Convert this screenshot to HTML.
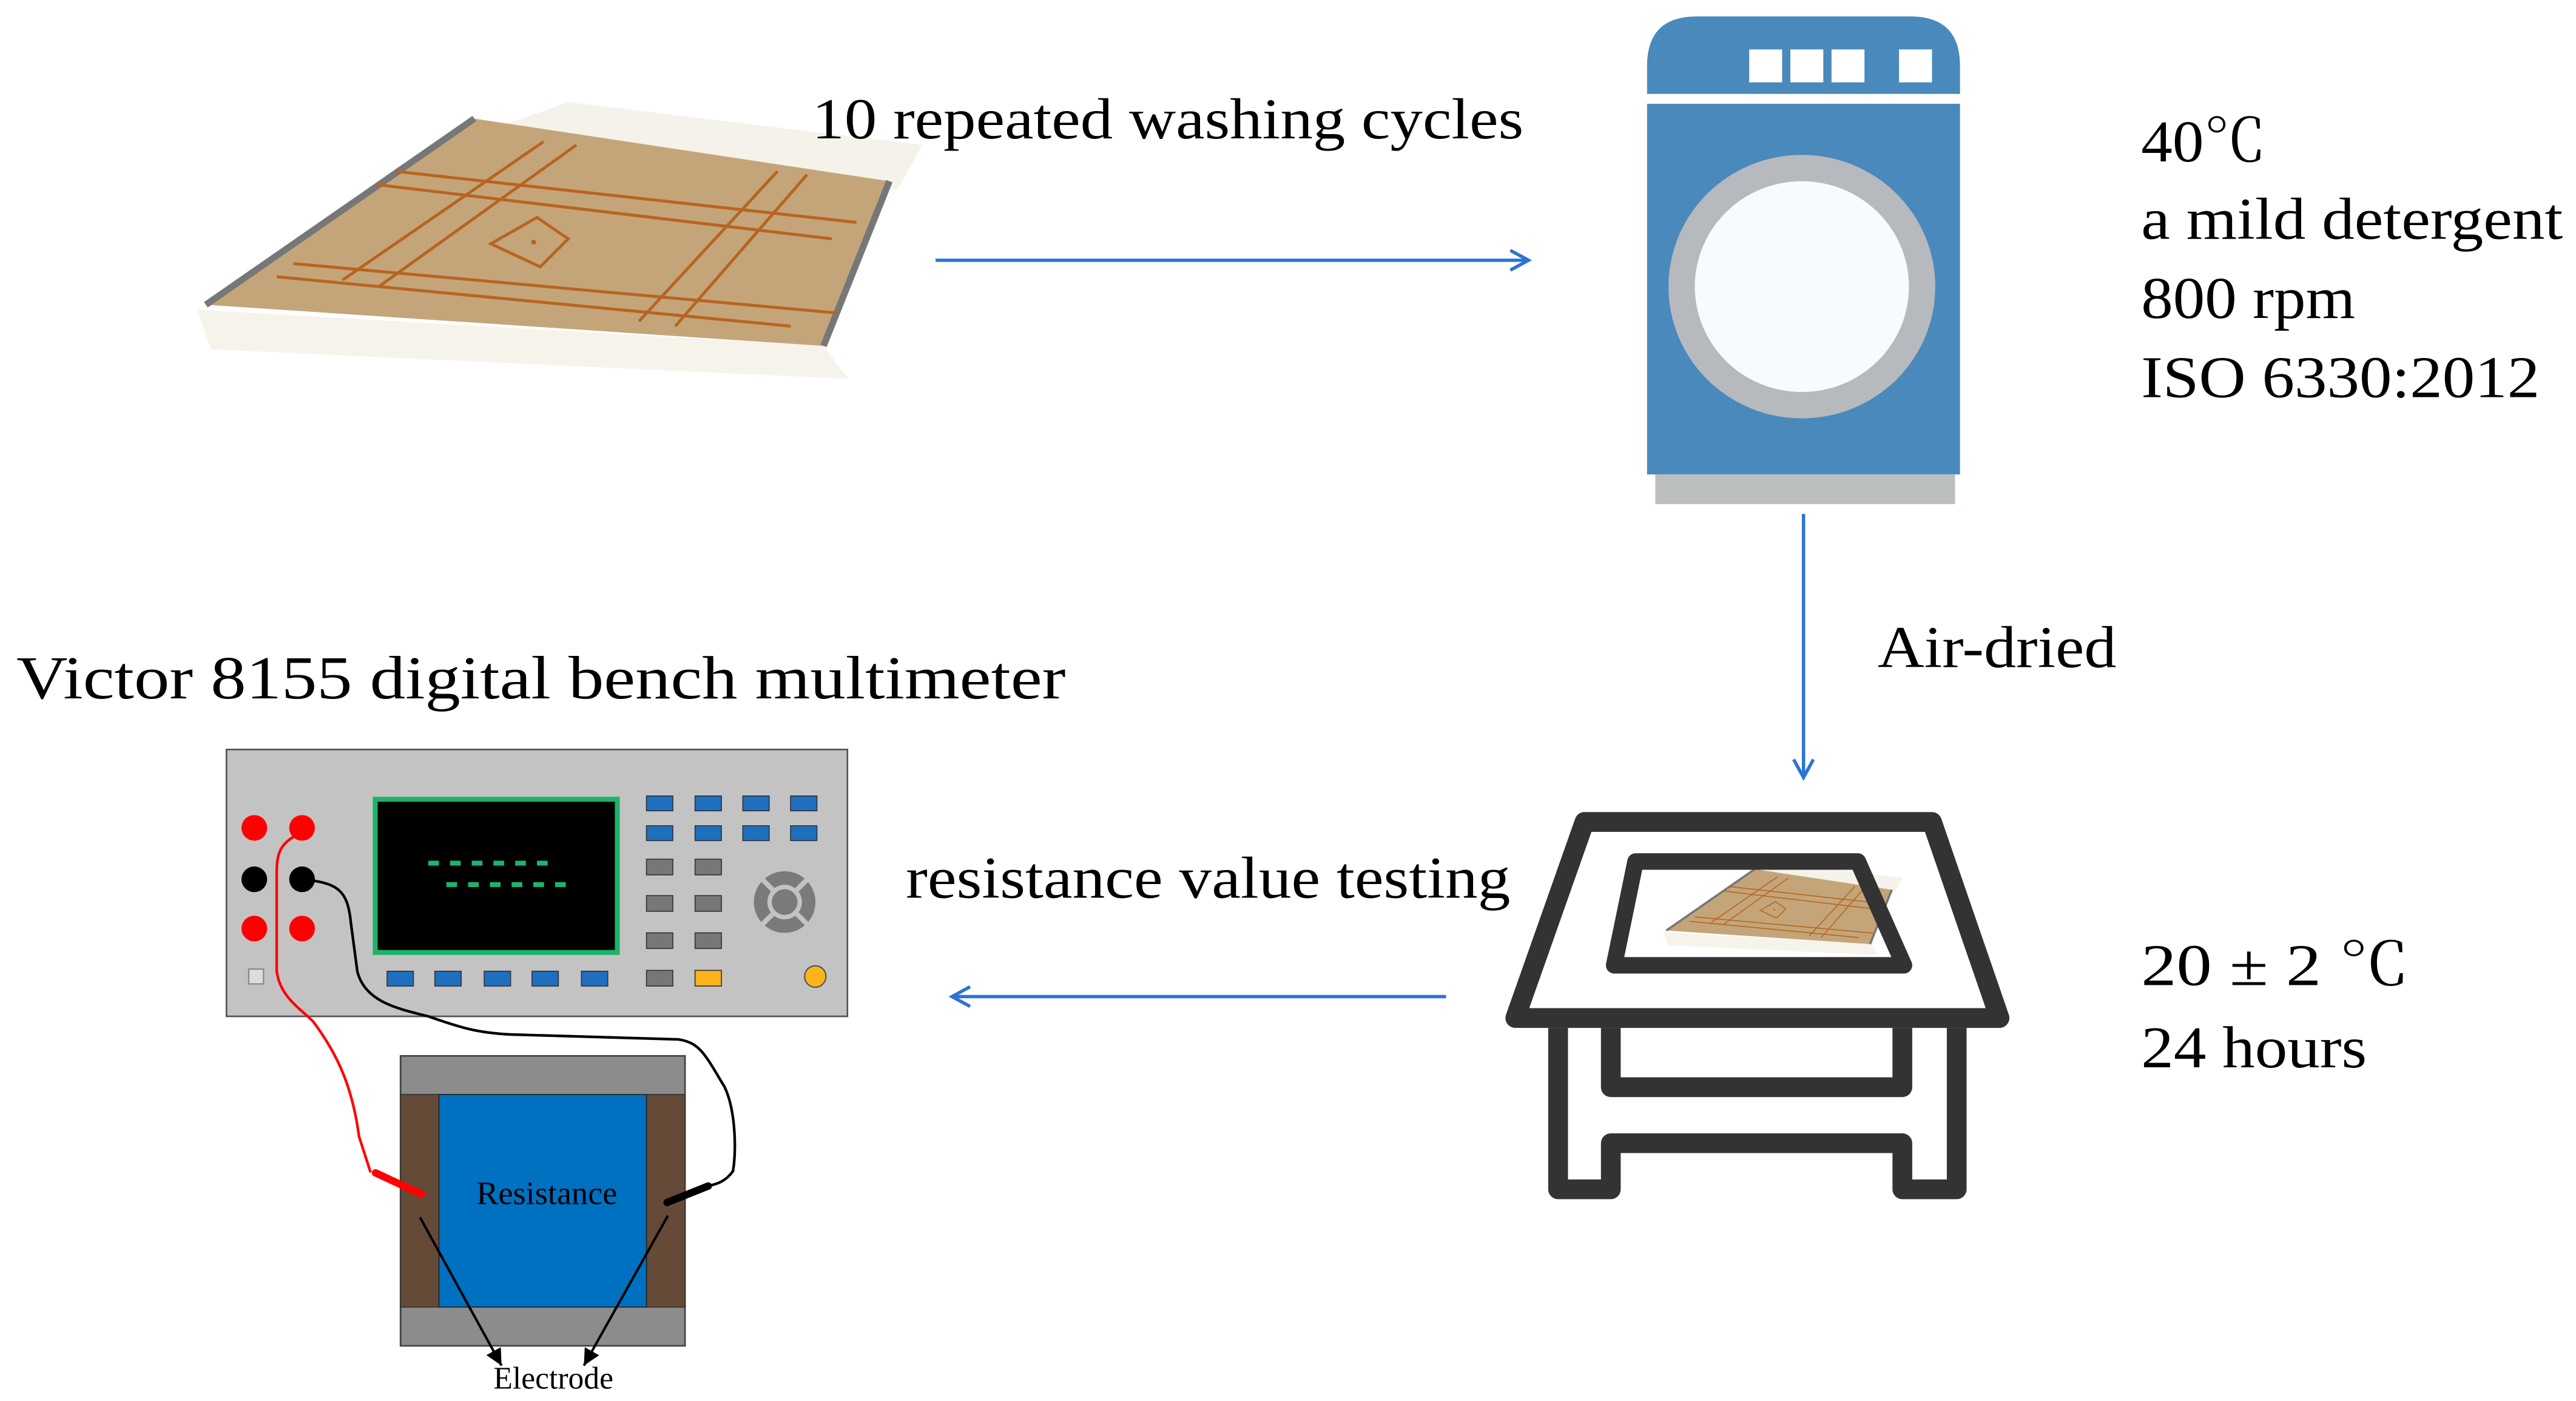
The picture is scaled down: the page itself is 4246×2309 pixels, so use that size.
<!DOCTYPE html>
<html><head><meta charset="utf-8"><style>
html,body{margin:0;padding:0;background:#fff;}
svg{display:block;}
text{font-family:"Liberation Serif","Noto Serif CJK SC",serif;fill:#000;}
</style></head><body>
<svg width="4246" height="2309" viewBox="0 0 1564 850.5" preserveAspectRatio="none" xmlns="http://www.w3.org/2000/svg">
<defs>
<marker id="ah" markerWidth="14" markerHeight="14" refX="12" refY="7" orient="auto" markerUnits="userSpaceOnUse">
<path d="M1,1 L12,7 L1,13" fill="none" stroke="#2b74d4" stroke-width="2"/>
</marker>
<marker id="bh" markerWidth="12" markerHeight="12" refX="10" refY="6" orient="auto" markerUnits="userSpaceOnUse">
<path d="M0,1 L10,6 L0,11 Z" fill="#000"/>
</marker>
<g id="fab">
<polygon points="345,62 560,88 545,115 300,78" fill="#f4f2ea"/>
<polygon points="288,72 540,110 500,210 125,185" fill="#c4a57a"/>
<polygon points="120,188 500,210 515,230 128,212" fill="#f6f3ea"/>
<path d="M288,72 L125,185" stroke="#777" stroke-width="4" fill="none"/>
<path d="M540,110 L500,210" stroke="#777" stroke-width="4" fill="none"/>
<g stroke="#b8641f" stroke-width="1.8" fill="none">
<path d="M240,104 L520,135"/><path d="M228,112 L505,145"/>
<path d="M178,160 L508,190"/><path d="M168,168 L480,198"/>
<path d="M330,86 L208,170"/><path d="M350,88 L230,174"/>
<path d="M472,104 L388,195"/><path d="M490,106 L410,198"/>
<path d="M326,132 L345,145 L328,162 L298,148 Z"/>
</g>
<circle cx="324" cy="147" r="1.5" fill="#b8641f"/>
</g>
</defs>

<use href="#fab"/>

<text x="493" y="84" font-size="35" textLength="432" lengthAdjust="spacingAndGlyphs">10 repeated washing cycles</text>
<line x1="568" y1="158" x2="928" y2="158" stroke="#2b74d4" stroke-width="2" marker-end="url(#ah)"/>

<path d="M1000,57 L1000,40 Q1000,10 1030,10 L1160,10 Q1190,10 1190,40 L1190,57 Z" fill="#4a89bb"/>
<rect x="1062" y="30" width="20" height="20" fill="#fff"/>
<rect x="1087" y="30" width="20" height="20" fill="#fff"/>
<rect x="1112" y="30" width="20" height="20" fill="#fff"/>
<rect x="1153" y="30" width="20" height="20" fill="#fff"/>
<rect x="1000" y="63" width="190" height="225" fill="#4a89bb"/>
<rect x="1005" y="288" width="182" height="18" fill="#bbbfc0"/>
<ellipse cx="1094" cy="174" rx="81" ry="80" fill="#b6b9be"/>
<ellipse cx="1094" cy="174" rx="65" ry="64" fill="#f7fbfd"/>

<text x="1300" y="98" font-size="36" textLength="76" lengthAdjust="spacingAndGlyphs">40℃</text>
<text x="1300" y="145" font-size="36" textLength="256" lengthAdjust="spacingAndGlyphs">a mild detergent</text>
<text x="1300" y="193" font-size="36" textLength="130" lengthAdjust="spacingAndGlyphs">800 rpm</text>
<text x="1300" y="241" font-size="36" textLength="242" lengthAdjust="spacingAndGlyphs">ISO 6330:2012</text>

<line x1="1095" y1="312" x2="1095" y2="472" stroke="#2b74d4" stroke-width="2" marker-end="url(#ah)"/>
<text x="1140" y="405" font-size="36" textLength="145" lengthAdjust="spacingAndGlyphs">Air-dried</text>

<g fill="none" stroke="#333" stroke-width="12" stroke-linejoin="round">
<polygon points="962,499 1173,499 1214,618 920,618"/>
<path d="M946,624 L946,722 L978,722 L978,694 L1155,694 L1155,722 L1188,722 L1188,624"/>
<path d="M978,624 L978,660 L1155,660 L1155,624"/>
</g>
<g transform="translate(1010,522) scale(0.33)"><use href="#fab" transform="translate(-120,-55)"/></g>
<polygon points="993,523 1128,523 1156,586 980,586" fill="none" stroke="#333" stroke-width="10" stroke-linejoin="round"/>

<text x="1300" y="598" font-size="36" textLength="163" lengthAdjust="spacingAndGlyphs">20 ± 2 ℃</text>
<text x="1300" y="648" font-size="36" textLength="137" lengthAdjust="spacingAndGlyphs">24 hours</text>

<line x1="878" y1="605" x2="578" y2="605" stroke="#2b74d4" stroke-width="2" marker-end="url(#ah)"/>
<text x="550" y="545" font-size="36" textLength="367" lengthAdjust="spacingAndGlyphs">resistance value testing</text>
<text x="10" y="424" font-size="37" textLength="637" lengthAdjust="spacingAndGlyphs">Victor 8155 digital bench multimeter</text>

<rect x="137.5" y="455" width="377" height="162" fill="#c3c3c3" stroke="#555" stroke-width="1"/>
<g>
<circle cx="154.4" cy="502.6" r="7.8" fill="#f00"/><circle cx="183.4" cy="502.6" r="7.8" fill="#f00"/>
<circle cx="154.4" cy="533.8" r="7.8" fill="#000"/><circle cx="183.4" cy="533.8" r="7.8" fill="#000"/>
<circle cx="154.4" cy="563.7" r="7.8" fill="#f00"/><circle cx="183.4" cy="563.7" r="7.8" fill="#f00"/>
<rect x="151" y="588.3" width="9" height="9" fill="#ddd" stroke="#888" stroke-width="0.8"/>
</g>
<rect x="227.8" y="485.2" width="147" height="93" fill="#000" stroke="#1db36b" stroke-width="3"/>
<g fill="#1db36b">
<rect x="260" y="522.5" width="6.5" height="3"/><rect x="273.2" y="522.5" width="6.5" height="3"/><rect x="286.4" y="522.5" width="6.5" height="3"/><rect x="299.6" y="522.5" width="6.5" height="3"/><rect x="312.8" y="522.5" width="6.5" height="3"/><rect x="326" y="522.5" width="6.5" height="3"/>
<rect x="271" y="535.5" width="6.5" height="3"/><rect x="284.2" y="535.5" width="6.5" height="3"/><rect x="297.4" y="535.5" width="6.5" height="3"/><rect x="310.6" y="535.5" width="6.5" height="3"/><rect x="323.8" y="535.5" width="6.5" height="3"/><rect x="337" y="535.5" width="6.5" height="3"/>
</g>
<g fill="#1f6fbf" stroke="#333" stroke-width="0.6">
<rect x="392.5" y="483.2" width="16" height="9"/><rect x="422" y="483.2" width="16" height="9"/><rect x="451" y="483.2" width="16" height="9"/><rect x="480" y="483.2" width="16" height="9"/>
<rect x="392.5" y="501.3" width="16" height="9"/><rect x="422" y="501.3" width="16" height="9"/><rect x="451" y="501.3" width="16" height="9"/><rect x="480" y="501.3" width="16" height="9"/>
<rect x="235" y="589.6" width="16" height="9"/><rect x="264" y="589.6" width="16" height="9"/><rect x="294" y="589.6" width="16" height="9"/><rect x="323" y="589.6" width="16" height="9"/><rect x="353" y="589.6" width="16" height="9"/>
</g>
<g fill="#777" stroke="#333" stroke-width="0.6">
<rect x="392.5" y="521.6" width="16" height="9.5"/><rect x="422" y="521.6" width="16" height="9.5"/>
<rect x="392.5" y="543.7" width="16" height="9.5"/><rect x="422" y="543.7" width="16" height="9.5"/>
<rect x="392.5" y="566.3" width="16" height="9.5"/><rect x="422" y="566.3" width="16" height="9.5"/>
<rect x="392.5" y="589.1" width="16" height="9.5"/>
</g>
<rect x="422" y="589.1" width="16" height="9.5" fill="#ffb31a" stroke="#333" stroke-width="0.6"/>
<circle cx="476.4" cy="547.6" r="18.7" fill="#7a7a7a"/>
<g stroke="#c3c3c3" stroke-width="3"><line x1="461" y1="532" x2="492" y2="563"/><line x1="492" y1="532" x2="461" y2="563"/></g>
<circle cx="476.4" cy="547.6" r="10.5" fill="#c3c3c3"/>
<circle cx="476.4" cy="547.6" r="7.8" fill="#7a7a7a"/>
<circle cx="495" cy="592.8" r="6.5" fill="#ffb31a" stroke="#555" stroke-width="0.8"/>

<rect x="243.2" y="641" width="172.7" height="176" fill="#8c8c8c" stroke="#444" stroke-width="1"/>
<rect x="243.2" y="664.4" width="23.3" height="129.1" fill="#654a38" stroke="#333" stroke-width="0.6"/>
<rect x="392.5" y="664.4" width="23.4" height="129.1" fill="#654a38" stroke="#333" stroke-width="0.6"/>
<rect x="266.5" y="664.4" width="126" height="129.1" fill="#0070c0" stroke="#222" stroke-width="0.6"/>
<text x="332" y="731" font-size="20" text-anchor="middle">Resistance</text>

<path d="M181,506.5 C170,512 168,518 168,530 L168,589.6 C170,605 182,612 190,620 C205,640 214,660 218,690 L225,711.7" fill="none" stroke="#f00" stroke-width="1.6"/>
<path d="M228,712 L256,725" stroke="#f00" stroke-width="4.5" stroke-linecap="round"/>
<path d="M183.4,533.8 C205,536 211,540 213,560 L217,590 C222,608 240,612 260,617 C280,624 290,627 310,628 L412,631 C425,633 428,640 440,660 C447,675 447,700 445,711 C440,718 434,719 430,720" fill="none" stroke="#000" stroke-width="1.6"/>
<path d="M430,720 L405,730" stroke="#000" stroke-width="4.5" stroke-linecap="round"/>

<line x1="255" y1="739" x2="304.5" y2="829" stroke="#000" stroke-width="1.5" marker-end="url(#bh)"/>
<line x1="405.5" y1="738" x2="354.5" y2="829" stroke="#000" stroke-width="1.5" marker-end="url(#bh)"/>
<text x="336" y="843" font-size="19" text-anchor="middle">Electrode</text>
</svg>
</body></html>
